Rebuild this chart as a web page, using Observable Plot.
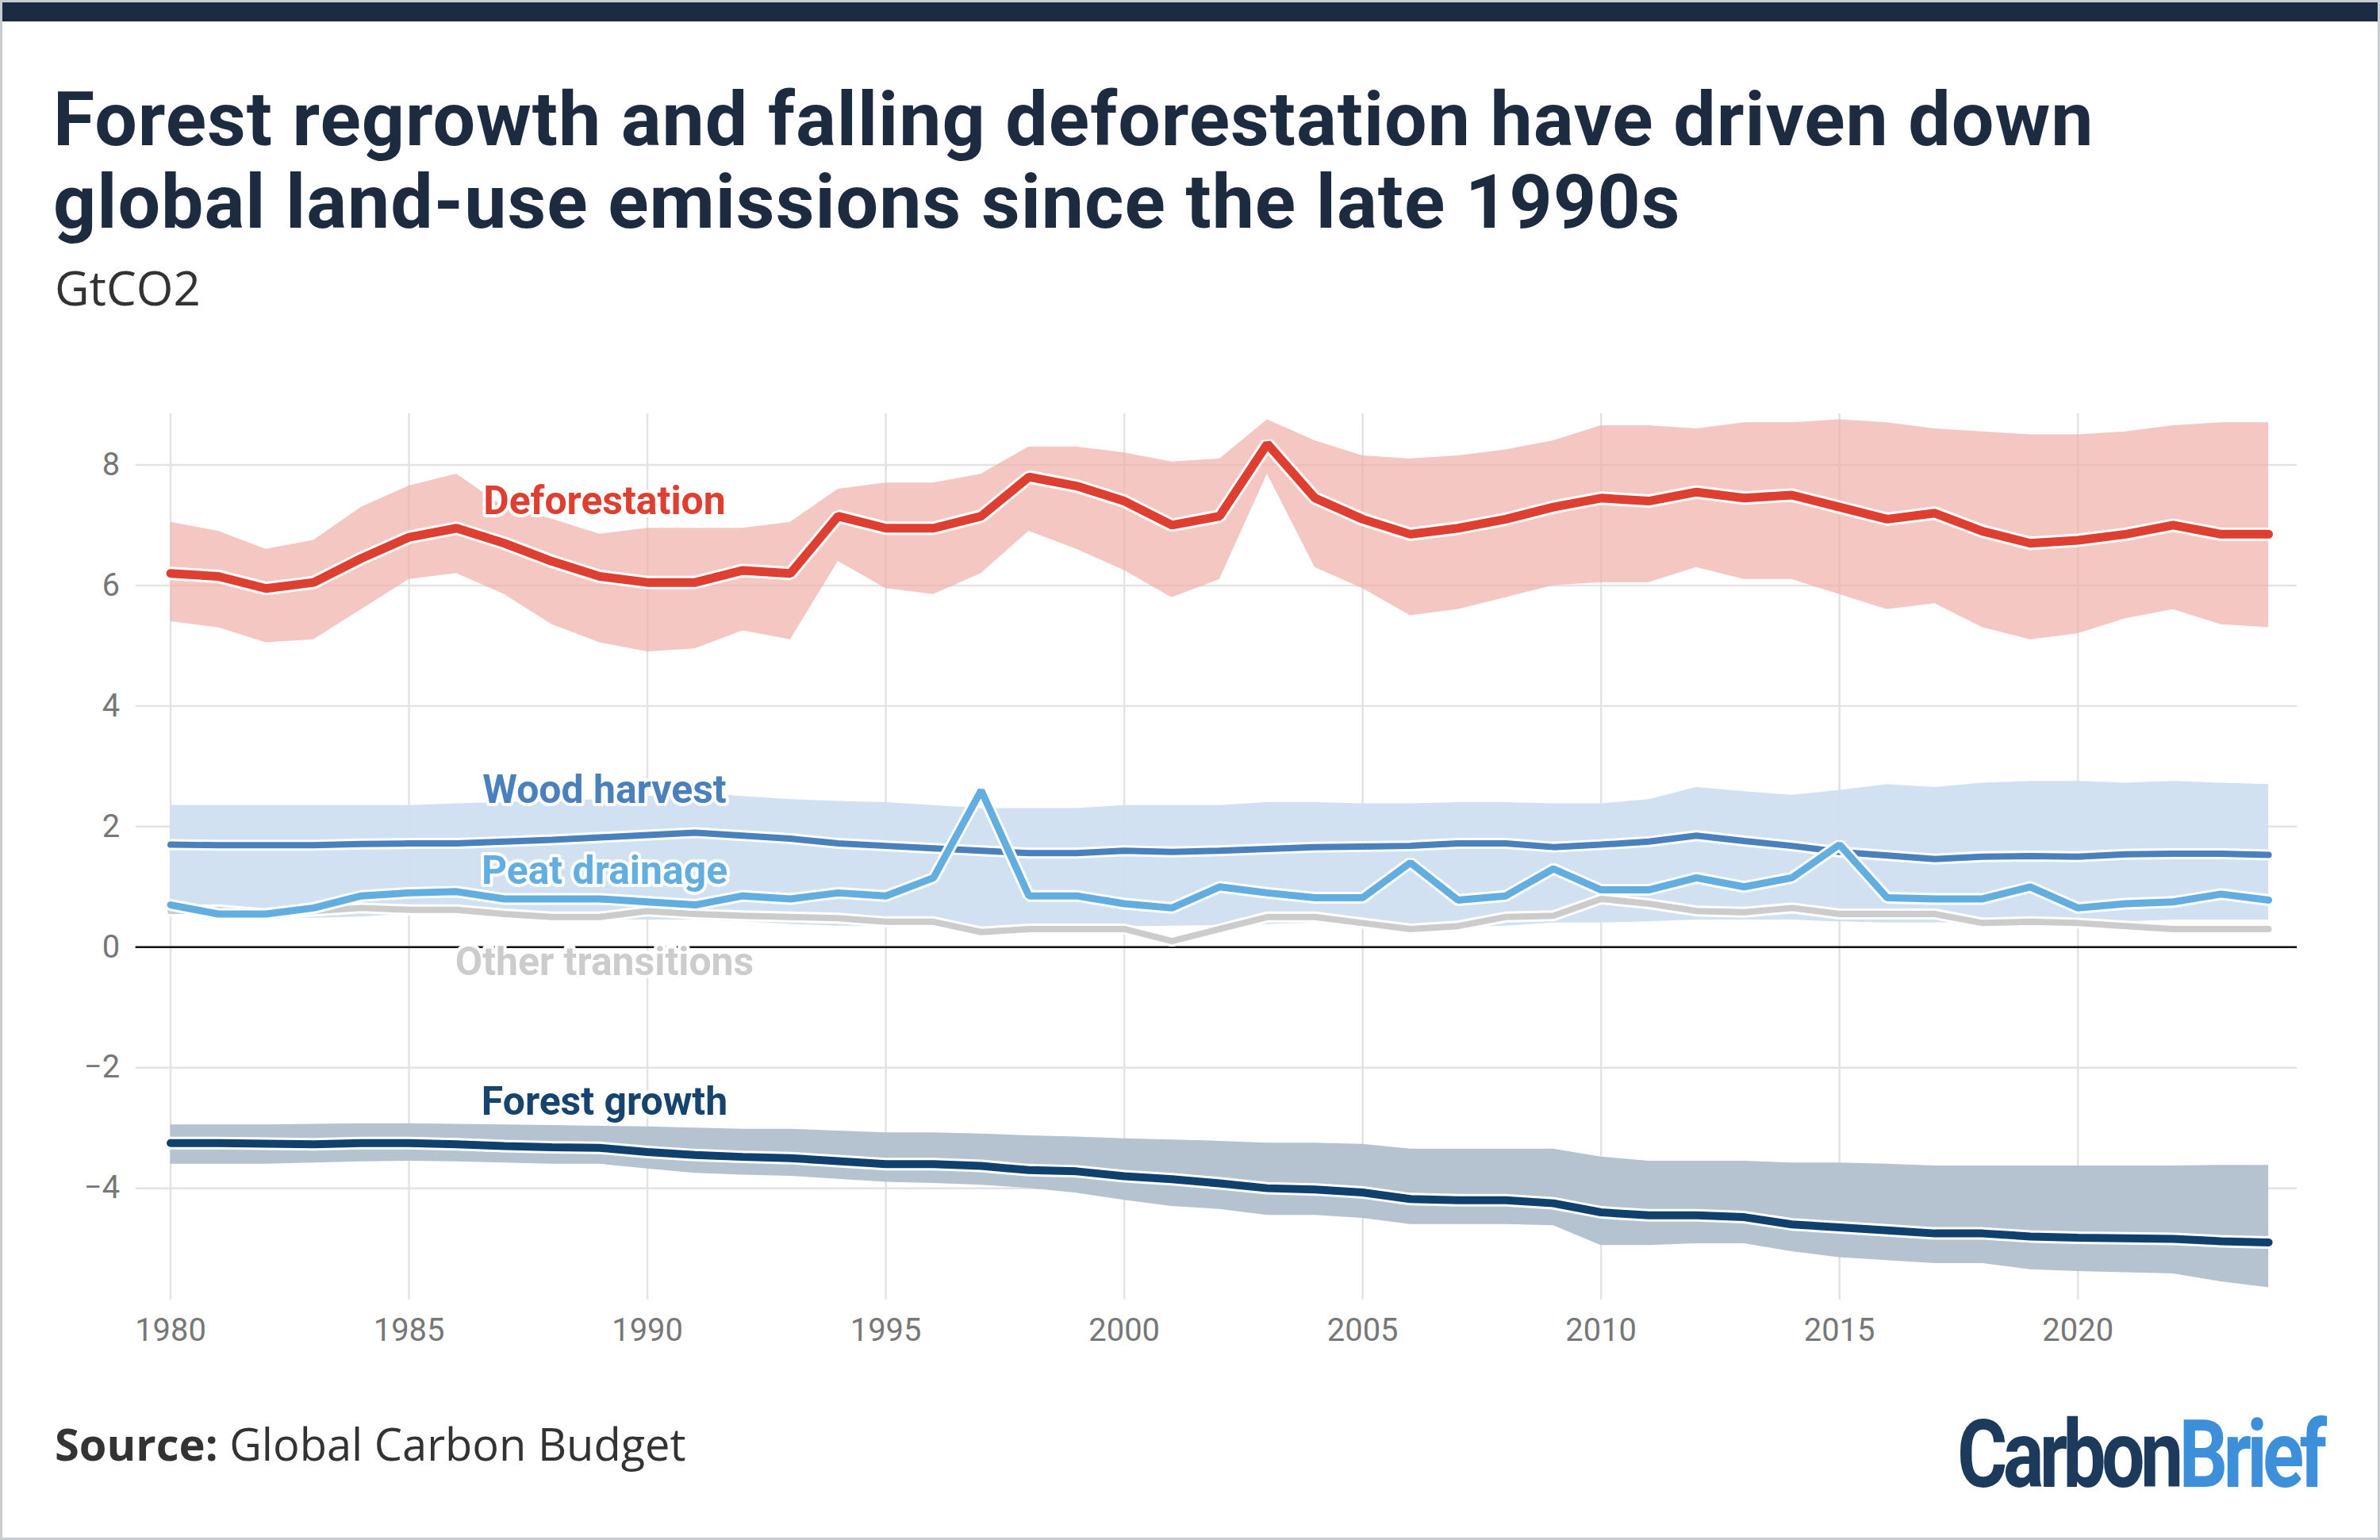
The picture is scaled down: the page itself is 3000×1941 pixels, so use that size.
<!DOCTYPE html>
<html><head><meta charset="utf-8">
<script src="https://cdn.jsdelivr.net/npm/d3@7"></script>
<script src="https://cdn.jsdelivr.net/npm/@observablehq/plot@0.6"></script>
<style>
body{margin:0;background:#fff;}
#page{position:relative;width:3000px;height:1941px;overflow:hidden;background:#fff;box-sizing:border-box;border:3px solid #c9ccd1;}
#bar{position:absolute;left:0;top:0;width:3000px;height:24px;background:#1b2b44;}
#title{position:absolute;left:64px;top:96px;font:700 95px Roboto;color:#1d2b41;line-height:104px;letter-spacing:1px;}
#sub{position:absolute;left:66px;top:318px;font:400 60px "Open Sans";color:#333;}
#chart{position:absolute;left:0;top:480px;}
#source{position:absolute;left:66px;top:1778px;font:400 56px "Open Sans";color:#333;}
#logo{position:absolute;right:70px;top:1762px;font:700 118px Roboto;letter-spacing:-7px;transform:scaleX(0.82);transform-origin:right center;}
</style></head>
<body><div id="page">
<div id="bar"></div>
<div id="title">Forest regrowth and falling deforestation have driven down<br>global land-use emissions since the late 1990s</div>
<div id="sub">GtCO2</div>
<div id="chart"></div>
<div id="source"><b>Source:</b> Global Carbon Budget</div>
<div id="logo"><span style="color:#1b3a5c">Carbon</span><span style="color:#3c8fd8">Brief</span></div>
</div>
<script>
const years = d3.range(1980, 2025);
const defMid = [6.2,6.15,5.95,6.05,6.45,6.8,6.95,6.7,6.4,6.15,6.05,6.05,6.25,6.2,7.15,6.95,6.95,7.15,7.8,7.65,7.4,7.0,7.15,8.35,7.45,7.1,6.85,6.95,7.1,7.3,7.45,7.4,7.55,7.45,7.5,7.3,7.1,7.2,6.9,6.7,6.75,6.85,7.0,6.85,6.85];
const defHi = [7.05,6.9,6.6,6.75,7.3,7.65,7.85,7.3,7.1,6.85,6.95,6.95,6.95,7.05,7.6,7.7,7.7,7.85,8.3,8.3,8.2,8.05,8.1,8.75,8.4,8.15,8.1,8.15,8.25,8.4,8.65,8.65,8.6,8.7,8.7,8.75,8.7,8.6,8.55,8.5,8.5,8.55,8.65,8.7,8.7];
const defLo = [5.4,5.3,5.05,5.1,5.6,6.1,6.2,5.85,5.35,5.05,4.9,4.95,5.25,5.1,6.4,5.95,5.85,6.2,6.9,6.6,6.25,5.8,6.1,7.85,6.3,5.95,5.5,5.6,5.8,6.0,6.05,6.05,6.3,6.1,6.1,5.85,5.6,5.7,5.3,5.1,5.2,5.45,5.6,5.35,5.3];
const woodMid = [1.7,1.69,1.69,1.69,1.71,1.72,1.72,1.75,1.78,1.82,1.86,1.9,1.85,1.8,1.72,1.68,1.64,1.6,1.56,1.56,1.6,1.58,1.6,1.63,1.66,1.67,1.68,1.72,1.72,1.66,1.7,1.75,1.85,1.76,1.68,1.58,1.52,1.46,1.5,1.51,1.5,1.54,1.55,1.55,1.53];
const woodHi = [2.35,2.35,2.35,2.35,2.35,2.35,2.38,2.4,2.42,2.45,2.5,2.55,2.5,2.45,2.42,2.4,2.35,2.3,2.3,2.3,2.35,2.35,2.35,2.4,2.4,2.38,2.38,2.4,2.4,2.38,2.38,2.45,2.65,2.58,2.52,2.6,2.7,2.65,2.72,2.75,2.75,2.72,2.75,2.72,2.7];
const woodLo = [0.55,0.5,0.5,0.48,0.5,0.55,0.52,0.5,0.48,0.46,0.45,0.45,0.42,0.38,0.35,0.35,0.34,0.33,0.33,0.33,0.34,0.35,0.36,0.38,0.4,0.4,0.35,0.33,0.35,0.4,0.4,0.42,0.45,0.45,0.45,0.42,0.4,0.4,0.42,0.4,0.4,0.42,0.45,0.45,0.45];
const peat = [0.7,0.55,0.55,0.65,0.85,0.9,0.92,0.8,0.8,0.8,0.75,0.7,0.85,0.8,0.9,0.85,1.15,2.6,0.85,0.85,0.72,0.65,1.0,0.9,0.82,0.82,1.4,0.78,0.85,1.3,0.95,0.95,1.15,1.0,1.15,1.7,0.82,0.8,0.8,1.0,0.65,0.72,0.75,0.88,0.78];
const other = [0.6,0.62,0.55,0.6,0.65,0.62,0.62,0.55,0.5,0.5,0.6,0.55,0.52,0.5,0.48,0.42,0.42,0.25,0.3,0.3,0.3,0.1,0.3,0.5,0.5,0.4,0.3,0.35,0.5,0.52,0.8,0.72,0.6,0.58,0.65,0.55,0.55,0.55,0.4,0.42,0.4,0.35,0.3,0.3,0.3];
const forestMid = [-3.25,-3.25,-3.26,-3.27,-3.25,-3.25,-3.27,-3.3,-3.32,-3.33,-3.4,-3.45,-3.48,-3.5,-3.55,-3.6,-3.6,-3.63,-3.7,-3.72,-3.8,-3.85,-3.92,-4.0,-4.02,-4.07,-4.18,-4.2,-4.2,-4.25,-4.4,-4.45,-4.45,-4.48,-4.6,-4.65,-4.7,-4.75,-4.75,-4.8,-4.82,-4.83,-4.84,-4.88,-4.9];
const forestHi = [-2.95,-2.95,-2.95,-2.94,-2.93,-2.93,-2.94,-2.95,-2.96,-2.97,-2.98,-3.0,-3.02,-3.02,-3.05,-3.08,-3.08,-3.1,-3.13,-3.15,-3.18,-3.2,-3.22,-3.25,-3.25,-3.27,-3.35,-3.35,-3.35,-3.35,-3.48,-3.55,-3.55,-3.55,-3.58,-3.58,-3.6,-3.63,-3.63,-3.63,-3.63,-3.63,-3.63,-3.62,-3.62];
const forestLo = [-3.6,-3.6,-3.6,-3.58,-3.56,-3.55,-3.56,-3.58,-3.6,-3.6,-3.68,-3.75,-3.78,-3.8,-3.85,-3.9,-3.92,-3.95,-4.0,-4.08,-4.2,-4.3,-4.35,-4.45,-4.45,-4.5,-4.6,-4.6,-4.6,-4.62,-4.95,-4.95,-4.92,-4.92,-5.05,-5.15,-5.2,-5.25,-5.25,-5.35,-5.38,-5.4,-5.42,-5.55,-5.65];
const xTicks = [1980,1985,1990,1995,2000,2005,2010,2015,2020];
const yTicks = [-4,-2,0,2,4,6,8];
const labels = [
  {name:"Deforestation", x:1989.1, y:7.4, color:"#de3f31"},
  {name:"Wood harvest", x:1989.1, y:2.6, color:"#4a80bc"},
  {name:"Peat drainage", x:1989.1, y:1.26, color:"#63aee1"},
  {name:"Other transitions", x:1989.1, y:-0.25, color:"#cccccc"},
  {name:"Forest growth", x:1989.1, y:-2.57, color:"#16446f"}
];
const rows = years.map((y,i)=>({year:y, dm:defMid[i], dh:defHi[i], dl:defLo[i], wm:woodMid[i], wh:woodHi[i], wl:woodLo[i], p:peat[i], o:other[i], fm:forestMid[i], fh:forestHi[i], fl:forestLo[i]}));
const halo = (key, color, w) => [
  Plot.line(rows,{x:"year", y:key, stroke:"white", strokeWidth:w+6, strokeLinejoin:"miter"}),
  Plot.line(rows,{x:"year", y:key, stroke:color, strokeWidth:w, strokeLinejoin:"miter"})
];
const chart = Plot.plot({
  width:3000, height:1260,
  marginLeft:168, marginRight:102, marginTop:38, marginBottom:103,
  x:{domain:[1979.27,2024.6], ticks:xTicks, tickFormat:d=>String(d), tickSize:0, tickPadding:24, label:null},
  y:{domain:[-5.85,8.85], ticks:yTicks, tickFormat:d=>d<0?"\u2212"+Math.abs(d):String(d), tickSize:0, tickPadding:20, label:null},
  style:{fontFamily:"Roboto", fontSize:"40px", color:"#777"},
  marks:[
    Plot.gridX(xTicks,{stroke:"#e3e3e3", strokeOpacity:1, strokeWidth:2.5}),
    Plot.gridY(yTicks,{stroke:"#e3e3e3", strokeOpacity:1, strokeWidth:2.5}),
    Plot.areaY(rows,{x:"year", y1:"wl", y2:"wh", fill:"#cfdff0", fillOpacity:0.95}),
    Plot.areaY(rows,{x:"year", y1:"dl", y2:"dh", fill:"#f0aca6", fillOpacity:0.68}),
    Plot.areaY(rows,{x:"year", y1:"fl", y2:"fh", fill:"#b4c3cf"}),
    Plot.ruleY([0],{stroke:"#111", strokeWidth:2.5}),
    ...halo("o","#cccccc",8),
    ...halo("wm","#4a80bc",8),
    ...halo("p","#63aee1",9),
    ...halo("fm","#10406e",10),
    ...halo("dm","#de3f31",11),
    Plot.text(labels,{x:"x", y:"y", text:"name", fill:"color", stroke:"white", strokeWidth:8, fontSize:50, fontWeight:700, fontFamily:"Roboto"})
  ]
});
document.getElementById("chart").appendChild(chart);
</script>
</body></html>
